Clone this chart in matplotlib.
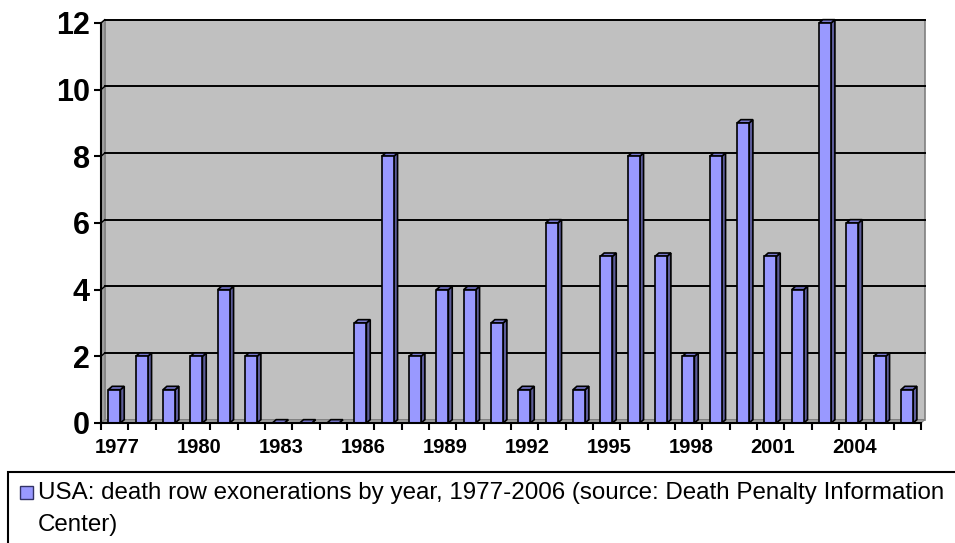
import matplotlib
matplotlib.use("Agg")
import matplotlib.pyplot as plt
from matplotlib.patches import Polygon, Rectangle

years = list(range(1977, 2007))
exonerations = [1, 2, 1, 2, 4, 2, 0, 0, 0, 3, 8, 2, 4, 4, 3, 1, 6, 1, 5, 8, 5, 2, 8, 9, 5, 4, 12, 6, 2, 1]
y_ticks = [0, 2, 4, 6, 8, 10, 12]
label_every = 3
legend_line1 = "USA: death row exonerations by year, 1977-2006 (source: Death Penalty Information"
legend_line2 = "Center)"

FRONT = "#9999FF"
SIDE = "#5C5C99"
TOP = "#7777CC"
WALL = "#C0C0C0"

plt.rcParams["font.family"] = ["Liberation Sans", "DejaVu Sans"]

W, H = 955, 543
fig = plt.figure(figsize=(W / 100, H / 100), dpi=100)
ax = fig.add_axes([101 / W, (H - 423) / H, (921 - 101) / W, (423 - 23) / H])
n = len(years)
ax.set_xlim(0, n)
ax.set_ylim(0, 12)

# depth of the 3d effect in data units
dx, dy = 0.14, 0.1

# back wall, side wall and floor
ax.add_patch(Rectangle((dx, dy), n, 12, facecolor=WALL, edgecolor="#808080", lw=1.2, clip_on=False, zorder=0))
ax.add_patch(Polygon([(0, 0), (dx, dy), (dx, 12 + dy), (0, 12)], closed=True, facecolor="#A0A0A0",
                     edgecolor="#808080", lw=0.8, clip_on=False, zorder=0.5))
ax.add_patch(Polygon([(0, 0), (dx, dy), (n + dx, dy), (n, 0)], closed=True, facecolor="#A0A0A0",
                     edgecolor="#808080", lw=0.8, clip_on=False, zorder=0.5))
for t in y_ticks[1:]:
    ax.plot([dx, n + dx], [t + dy, t + dy], color="black", lw=1.4, clip_on=False, zorder=1)
    ax.plot([0, dx], [t, t + dy], color="black", lw=1.0, clip_on=False, zorder=1)

# bars
w0, w1 = 0.27, 0.71
for i, v in enumerate(exonerations):
    x0, x1 = i + w0, i + w1
    ax.add_patch(Polygon([(x1, 0), (x1 + dx, dy), (x1 + dx, v + dy), (x1, v)], closed=True,
                         facecolor=SIDE, edgecolor="black", lw=1.2, clip_on=False, zorder=2))
    ax.add_patch(Polygon([(x0, v), (x0 + dx, v + dy), (x1 + dx, v + dy), (x1, v)], closed=True,
                         facecolor=TOP, edgecolor="black", lw=1.2, clip_on=False, zorder=2))
    ax.add_patch(Rectangle((x0, 0), x1 - x0, v, facecolor=FRONT, edgecolor="black", lw=1.2,
                           clip_on=False, zorder=3))

for s in ["top", "right"]:
    ax.spines[s].set_visible(False)
ax.spines["left"].set_linewidth(1.5)
ax.spines["bottom"].set_linewidth(1.5)
ax.spines["left"].set_zorder(5)
ax.spines["bottom"].set_zorder(5)
ax.set_facecolor("none")

ax.set_yticks(y_ticks)
ax.set_yticklabels([str(t) for t in y_ticks], fontsize=22, fontweight="bold")
ax.tick_params(axis="y", length=5, width=1.5, pad=3)

ax.set_xticks(range(n + 1))
ax.set_xticklabels([])
ax.tick_params(axis="x", which="major", length=5, width=1.5)
ax.set_xticks([i + 0.58 for i in range(0, n, label_every)], minor=True)
ax.set_xticklabels([str(years[i]) for i in range(0, n, label_every)], minor=True,
                   fontsize=14.5, fontweight="bold")
ax.tick_params(axis="x", which="minor", length=0, pad=11)

# legend box at the bottom, cut off by the figure edge
fig.patches.append(Rectangle((8 / W, -0.02), 1.0, (H - 472) / H + 0.02, transform=fig.transFigure,
                             facecolor="white", edgecolor="black", lw=1.5))
fig.patches.append(Rectangle((20 / W, (H - 499) / H), 13 / W, 13 / H, transform=fig.transFigure,
                             facecolor=FRONT, edgecolor="#333366", lw=1.0))
fig.text(38 / W, (H - 493) / H, legend_line1, fontsize=17.4, va="center", ha="left")
fig.text(38 / W, (H - 525) / H, legend_line2, fontsize=17.4, va="center", ha="left")

fig.savefig("out.png", dpi=100)
